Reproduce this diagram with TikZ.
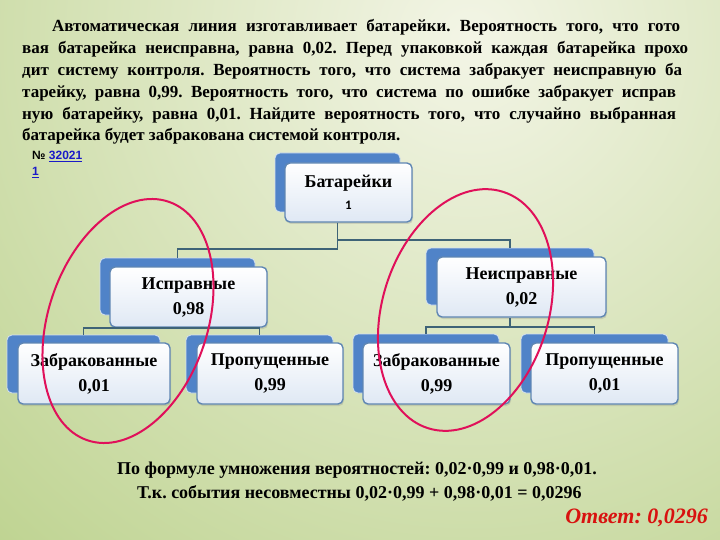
\documentclass[tikz,border=0pt]{standalone}
\usepackage{fontspec}
\setmainfont{Liberation Serif}
\newfontfamily\arialf{Liberation Sans}
\newfontfamily\carl{Carlito}
\usetikzlibrary{shadows}
\definecolor{bginner}{HTML}{F3F5E6}
\definecolor{bgouter}{HTML}{A0C060}
\definecolor{backblue}{HTML}{5083C8}
\definecolor{frontedge}{HTML}{5F86B3}
\definecolor{frontbot}{HTML}{DFE8F4}
\definecolor{connc}{HTML}{3E6377}
\definecolor{ringc}{HTML}{E0105A}
\definecolor{linkblue}{HTML}{1A1AC8}
\definecolor{ansred}{HTML}{D8120F}
\frenchspacing
\tikzset{
  backbox/.style={draw=white!75!backblue, line width=0.8pt, fill=backblue, rounded corners=5pt, inner sep=0pt},
  frontbox/.style={draw=frontedge, line width=1.4pt, top color=white, bottom color=frontbot, rounded corners=5pt, inner sep=0pt, align=center,
     font=\fontsize{18}{25}\selectfont\bfseries,
     drop shadow={opacity=0.25, shadow xshift=1pt, shadow yshift=-2pt}},
  conn/.style={draw=connc, line width=1.8pt},
  ring/.style={draw=ringc, line width=2pt},
  para/.style={anchor=base west, inner sep=0pt, font=\fontsize{17}{20}\selectfont\bfseries},
  foot/.style={anchor=base west, inner sep=0pt, font=\fontsize{18}{20}\selectfont\bfseries}
}
\begin{document}
\begin{tikzpicture}[x=1pt,y=-1pt]
\useasboundingbox (0,0) rectangle (720,540);
\begin{scope}
\clip (0,0) rectangle (720,540);
\shade[inner color=bginner, outer color=bgouter] (470,40) circle (1100pt);
\end{scope}
% paragraph
\node[para] (p1) at (52,32) {\hbox to 628pt{Автоматическая линия изготавливает батарейки. Вероятность того, что гото}};
\node[para] (p2) at (22,54) {\hbox to 666pt{вая батарейка неисправна, равна 0,02. Перед упаковкой каждая батарейка прохо}};
\node[para] (p3) at (22,76) {\hbox to 660pt{дит систему контроля. Вероятность того, что система забракует неисправную ба}};
\node[para] (p4) at (22,98) {\hbox to 654pt{тарейку, равна 0,99. Вероятность того, что система по ошибке забракует исправ}};
\node[para] (p5) at (22,119.5) {\hbox to 654pt{ную батарейку, равна 0,01. Найдите вероятность того, что случайно выбранная}};
\node[para] (p6) at (22,141) {батарейка будет забракована системой контроля.};
\node[anchor=base west, inner sep=0pt, font=\arialf\fontsize{12}{12}\selectfont\bfseries] (num) at (32,160) {№ \textcolor{linkblue}{\underline{32021}}};
\node[anchor=base west, inner sep=0pt, font=\arialf\fontsize{12}{12}\selectfont\bfseries, text=linkblue] (num1) at (32,176) {\underline{1}};
% boxes
\node[backbox, minimum width=125pt, minimum height=59pt] (rootb) at (337.5,182.5) {};
\node[frontbox, minimum width=127pt, minimum height=59pt] (root) at (348.5,192.5) {Батарейки\\[-3pt]{\carl\bfseries\fontsize{13}{13}\selectfont 1}};
\node[backbox, minimum width=155pt, minimum height=57pt] (ispb) at (177.5,286.5) {};
\node[frontbox, minimum width=157pt, minimum height=60pt] (isp) at (188.5,297) {Исправные\\0,98};
\node[backbox, minimum width=168pt, minimum height=57pt] (neispb) at (510,276.5) {};
\node[frontbox, minimum width=169pt, minimum height=60pt] (neisp) at (521.5,287) {Неисправные\\0,02};
\node[backbox, minimum width=153pt, minimum height=58pt] (lzb) at (83.5,364) {};
\node[frontbox, minimum width=152pt, minimum height=61pt] (lz) at (94,373.5) {Забракованные\\0,01};
\node[backbox, minimum width=147pt, minimum height=58pt] (lpb) at (259.5,364) {};
\node[frontbox, minimum width=146pt, minimum height=61pt] (lp) at (270,373.5) {Пропущенные\\0,99};
\node[backbox, minimum width=146pt, minimum height=59pt] (rzb) at (426,363.5) {};
\node[frontbox, minimum width=147pt, minimum height=61pt] (rz) at (436.5,373.5) {Забракованные\\0,99};
\node[backbox, minimum width=147pt, minimum height=59pt] (rpb) at (594.5,363.5) {};
\node[frontbox, minimum width=147pt, minimum height=61pt] (rp) at (604.5,373.5) {Пропущенные\\0,01};
% connectors
\draw[conn] (rootb.center |- root.south) -- ++(0,26) -| (ispb.north);
\draw[conn] (rootb.center |- root.south) -- ++(0,17) -| (neispb.north);
\draw[conn] (lzb.north) |- (ispb.center |- isp.south) -| (lpb.north);
\draw[conn] (neispb.center |- neisp.south) -- ++(0,9) coordinate (nbar);
\draw[conn] (rzb.north) |- (nbar) -| (rpb.north);
% rings
\draw[ring, rotate around={71.2:(128,321)}] (128,321) ellipse [x radius=126pt, y radius=79.5pt];
\draw[ring, rotate around={72.4:(465.5,310)}] (465.5,310) ellipse [x radius=124pt, y radius=83pt];
% bottom text
\node[foot] (f1) at (117,474) {По формуле умножения вероятностей: 0,02·0,99 и 0,98·0,01.};
\node[foot] (f2) at (137,498) {Т.к. события несовместны 0,02·0,99 + 0,98·0,01 = 0,0296};
\node[anchor=base east, inner sep=0pt, font=\fontsize{22}{24}\selectfont\bfseries\itshape, text=ansred] (ans) at (708,523) {Ответ: 0,0296};
\end{tikzpicture}
\end{document}
